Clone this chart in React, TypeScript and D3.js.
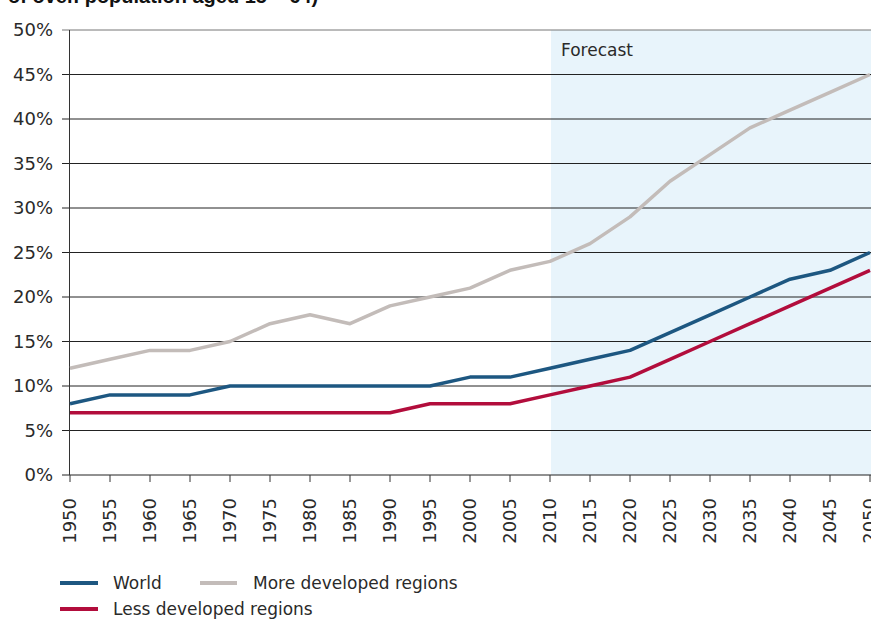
import React from "react";
import * as d3 from "d3";

const years = [1950, 1955, 1960, 1965, 1970, 1975, 1980, 1985, 1990, 1995, 2000, 2005, 2010, 2015, 2020, 2025, 2030, 2035, 2040, 2045, 2050];
const world = [8, 9, 9, 9, 10, 10, 10, 10, 10, 10, 11, 11, 12, 13, 14, 16, 18, 20, 22, 23, 25];
const moreDeveloped = [12, 13, 14, 14, 15, 17, 18, 17, 19, 20, 21, 23, 24, 26, 29, 33, 36, 39, 41, 43, 45];
const lessDeveloped = [7, 7, 7, 7, 7, 7, 7, 7, 7, 8, 8, 8, 9, 10, 11, 13, 15, 17, 19, 21, 23];
const yTicks = [0, 5, 10, 15, 20, 25, 30, 35, 40, 45, 50];
const forecastStart = 2010;

const W = 871;
const H = 619;
const font = "'DejaVu Sans', sans-serif";
const ink = "#2a2a2a";

const x = d3.scaleLinear().domain([1950, 2050]).range([70, 870]);
const y = d3.scaleLinear().domain([0, 50]).range([475, 30]);

const series = [
  { name: "More developed regions", values: moreDeveloped, color: "#c3bcb9" },
  { name: "World", values: world, color: "#1d5781" },
  { name: "Less developed regions", values: lessDeveloped, color: "#b20d3c" },
];

const line = d3
  .line<number>()
  .x((_, i) => x(years[i]))
  .y((d) => y(d));

export default function App() {
  return (
    <svg
      width={W}
      height={H}
      style={{ position: "absolute", left: 0, top: 0, background: "#fff" }}
      fontFamily={font}
    >
      <text x={8} y={3} fontSize={20} fontWeight="bold" fill="#111" fontFamily="'Liberation Sans', Arial, sans-serif">
        of over. population aged 15 – 64)
      </text>

      {/* forecast band */}
      <rect x={x(forecastStart) + 1} y={y(50)} width={x(2050) - x(forecastStart)} height={y(0) - y(50)} fill="#e8f4fb" />
      <text x={x(forecastStart) + 11} y={56} fontSize={17} fill={ink}>
        Forecast
      </text>

      {/* grid + y axis */}
      {yTicks.map((t) => (
        <g key={t}>
          <line x1={62} x2={W} y1={y(t)} y2={y(t)} stroke={t === 50 ? "#777" : "#222"} strokeWidth={1} />
          <text x={53} y={y(t)} dy="0.36em" textAnchor="end" fontSize={18} fill={ink}>
            {t}%
          </text>
        </g>
      ))}
      <line x1={69.5} x2={69.5} y1={y(50)} y2={y(0)} stroke="#333" />

      {/* x ticks */}
      {years.map((yr) => (
        <g key={yr}>
          <line x1={x(yr)} x2={x(yr)} y1={y(0)} y2={y(0) + 7} stroke="#333" />
          <text
            transform={`translate(${x(yr)},${y(0) + 23}) rotate(-90)`}
            textAnchor="end"
            dy="0.36em"
            fontSize={18}
            fill={ink}
          >
            {yr}
          </text>
        </g>
      ))}

      {/* lines */}
      {series.map((s) => (
        <path key={s.name} d={line(s.values) || ""} fill="none" stroke={s.color} strokeWidth={3.5} strokeLinejoin="round" />
      ))}

      {/* legend */}
      <g fontSize={17} fill={ink}>
        <line x1={60} x2={98} y1={583} y2={583} stroke="#1d5781" strokeWidth={4} />
        <text x={113} y={589}>World</text>
        <line x1={200} x2={237} y1={583} y2={583} stroke="#c3bcb9" strokeWidth={4} />
        <text x={253} y={589}>More developed regions</text>
        <line x1={60} x2={98} y1={609} y2={609} stroke="#b20d3c" strokeWidth={4} />
        <text x={113} y={615}>Less developed regions</text>
      </g>
    </svg>
  );
}
